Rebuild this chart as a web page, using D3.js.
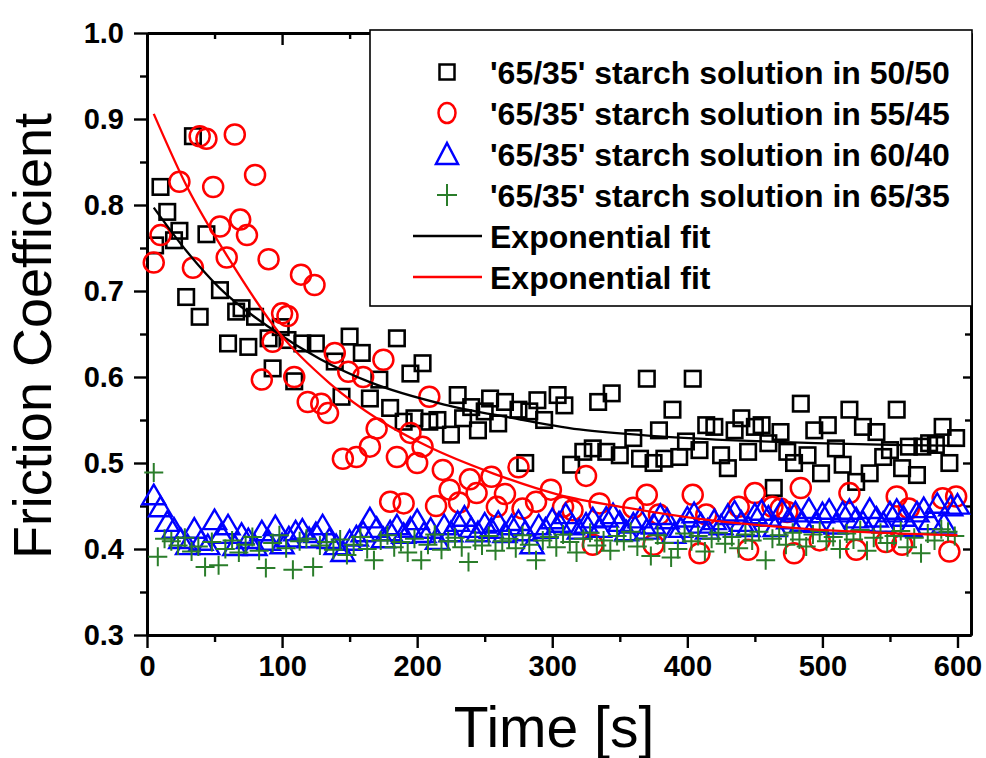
<!DOCTYPE html>
<html>
<head>
<meta charset="utf-8">
<script src="https://cdn.jsdelivr.net/npm/d3@7"></script>
<style>
  html, body { margin: 0; padding: 0; background: #fff; }
  svg { display: block; }
  text { font-family: "Liberation Sans", Arial, sans-serif; }
</style>
</head>
<body>
<svg id="chart" width="986" height="758"></svg>
<script>
// Friction coefficient vs. time for '65/35' starch solutions in four solvent ratios
const seriesNames = [
  "'65/35' starch solution in 50/50",
  "'65/35' starch solution in 55/45",
  "'65/35' starch solution in 60/40",
  "'65/35' starch solution in 65/35"
];
const fitNames = ["Exponential fit", "Exponential fit"];

const xTicks = [0, 100, 200, 300, 400, 500, 600];
const yTicks = [0.3, 0.4, 0.5, 0.6, 0.7, 0.8, 0.9, 1.0];

// [time s, friction coefficient]
const s5050 = [
  [6,0.753],[10,0.821],[15,0.792],[20,0.759],[24,0.770],[29,0.693],[34,0.880],[39,0.670],
  [44,0.766],[54,0.701],[60,0.639],[66,0.676],[70,0.680],[75,0.635],[80,0.670],[90,0.645],
  [93,0.610],[99,0.658],[104,0.643],[109,0.595],[115,0.639],[125,0.639],[139,0.618],[144,0.577],
  [150,0.647],[159,0.628],[165,0.575],[172,0.597],[180,0.564],[185,0.645],[190,0.548],[195,0.604],
  [198,0.552],[204,0.616],[209,0.548],[215,0.550],[225,0.533],[230,0.579],[234,0.552],[240,0.565],
  [245,0.538],[250,0.560],[254,0.575],[260,0.546],[265,0.571],[275,0.562],[280,0.500],[283,0.560],
  [289,0.573],[294,0.550],[304,0.579],[309,0.567],[314,0.498],[323,0.513],[330,0.517],[334,0.571],
  [340,0.513],[344,0.581],[350,0.509],[360,0.529],[365,0.505],[370,0.598],[375,0.500],[379,0.538],
  [383,0.505],[389,0.562],[394,0.507],[399,0.525],[404,0.598],[409,0.515],[414,0.544],[420,0.542],
  [425,0.509],[430,0.494],[435,0.538],[440,0.552],[445,0.513],[450,0.542],[455,0.544],[460,0.523],
  [464,0.471],[469,0.536],[474,0.513],[479,0.500],[484,0.569],[489,0.509],[494,0.538],[499,0.488],
  [504,0.544],[510,0.517],[515,0.498],[520,0.562],[525,0.478],[530,0.542],[535,0.488],[540,0.536],
  [545,0.507],[550,0.515],[555,0.562],[559,0.494],[564,0.519],[570,0.486],[574,0.519],[579,0.523],
  [584,0.521],[589,0.542],[594,0.500],[599,0.529]
];

const s5545 = [
  [5,0.733],[10,0.765],[24,0.827],[34,0.727],[39,0.880],[44,0.877],[49,0.821],[54,0.775],
  [59,0.739],[65,0.882],[69,0.783],[74,0.765],[80,0.835],[85,0.597],[90,0.737],[93,0.641],
  [100,0.674],[104,0.671],[109,0.600],[114,0.719],[119,0.571],[124,0.707],[129,0.569],[134,0.558],
  [139,0.628],[145,0.505],[149,0.606],[155,0.507],[160,0.600],[165,0.519],[170,0.540],[175,0.620],
  [180,0.455],[185,0.507],[190,0.453],[195,0.535],[200,0.500],[204,0.519],[209,0.577],[214,0.450],
  [219,0.492],[224,0.469],[231,0.454],[239,0.481],[244,0.465],[255,0.484],[259,0.449],[265,0.464],
  [275,0.495],[278,0.447],[288,0.455],[299,0.469],[308,0.449],[315,0.445],[325,0.485],[330,0.405],
  [335,0.453],[360,0.448],[370,0.463],[375,0.405],[379,0.440],[404,0.463],[409,0.395],[414,0.440],
  [438,0.449],[445,0.399],[450,0.465],[463,0.449],[469,0.447],[474,0.443],[479,0.395],[484,0.471],
  [498,0.410],[520,0.465],[525,0.399],[547,0.408],[555,0.461],[559,0.405],[564,0.447],[589,0.459],
  [594,0.397],[599,0.461]
];

const s6040 = [
  [5,0.463],[10,0.449],[15,0.432],[20,0.424],[25,0.412],[30,0.405],[35,0.424],[40,0.410],
  [45,0.405],[50,0.434],[55,0.418],[60,0.428],[65,0.404],[70,0.418],[75,0.412],[80,0.404],
  [85,0.421],[90,0.410],[95,0.427],[100,0.406],[105,0.414],[110,0.421],[115,0.423],[120,0.413],
  [125,0.419],[130,0.428],[135,0.412],[140,0.405],[145,0.397],[150,0.410],[155,0.415],[160,0.420],
  [165,0.436],[170,0.425],[175,0.413],[180,0.421],[185,0.428],[190,0.418],[195,0.425],[200,0.434],
  [205,0.419],[210,0.424],[215,0.411],[220,0.428],[225,0.420],[230,0.432],[235,0.438],[240,0.425],
  [245,0.420],[250,0.430],[255,0.424],[260,0.432],[265,0.419],[270,0.428],[275,0.433],[280,0.421],
  [285,0.406],[290,0.428],[295,0.424],[300,0.435],[305,0.431],[310,0.441],[315,0.428],[320,0.423],
  [325,0.430],[330,0.436],[335,0.425],[340,0.437],[345,0.441],[350,0.432],[355,0.421],[360,0.430],
  [365,0.436],[370,0.423],[375,0.429],[380,0.440],[385,0.435],[390,0.418],[395,0.425],[400,0.437],
  [405,0.442],[410,0.430],[415,0.423],[420,0.434],[425,0.428],[430,0.440],[435,0.444],[440,0.432],
  [445,0.426],[450,0.441],[455,0.445],[460,0.438],[465,0.426],[470,0.446],[475,0.435],[480,0.443],
  [485,0.432],[490,0.447],[495,0.431],[500,0.442],[505,0.446],[510,0.429],[515,0.443],[520,0.446],
  [525,0.436],[530,0.432],[535,0.447],[540,0.437],[545,0.431],[550,0.443],[555,0.446],[560,0.438],
  [565,0.426],[570,0.443],[575,0.448],[580,0.434],[585,0.453],[590,0.430],[595,0.450],[600,0.452]
];

const s6535 = [
  [5,0.489],[8,0.391],[13,0.412],[18,0.409],[23,0.404],[28,0.413],[33,0.397],[38,0.403],
  [43,0.379],[48,0.408],[53,0.381],[58,0.400],[63,0.410],[68,0.396],[73,0.405],[78,0.414],
  [83,0.398],[88,0.378],[93,0.407],[98,0.416],[103,0.401],[108,0.376],[113,0.409],[118,0.412],
  [123,0.379],[128,0.404],[133,0.408],[138,0.399],[143,0.411],[148,0.393],[153,0.405],[158,0.414],
  [163,0.400],[168,0.387],[173,0.410],[178,0.416],[183,0.402],[188,0.408],[193,0.396],[198,0.412],
  [203,0.387],[208,0.405],[213,0.417],[218,0.399],[223,0.409],[228,0.413],[233,0.402],[238,0.385],
  [243,0.410],[248,0.404],[253,0.415],[258,0.398],[263,0.409],[268,0.412],[273,0.401],[278,0.416],
  [283,0.405],[288,0.387],[293,0.410],[298,0.414],[303,0.402],[308,0.417],[313,0.408],[318,0.396],
  [323,0.412],[328,0.419],[333,0.404],[338,0.410],[343,0.398],[348,0.415],[353,0.409],[358,0.420],
  [363,0.403],[368,0.411],[373,0.392],[378,0.416],[383,0.407],[388,0.390],[393,0.400],[398,0.418],
  [403,0.409],[408,0.415],[413,0.397],[418,0.412],[423,0.419],[428,0.406],[433,0.414],[438,0.401],
  [443,0.417],[448,0.410],[453,0.420],[458,0.387],[463,0.412],[468,0.416],[473,0.405],[478,0.419],
  [483,0.411],[488,0.403],[493,0.417],[498,0.421],[503,0.409],[508,0.414],[513,0.400],[518,0.418],
  [523,0.411],[528,0.422],[533,0.398],[538,0.413],[543,0.419],[548,0.407],[553,0.415],[558,0.421],
  [563,0.402],[568,0.413],[573,0.395],[578,0.418],[583,0.410],[588,0.423],[593,0.420],[598,0.415]
];

// Exponential-fit curves, sampled along the drawn lines
const fit5050 = [
  [5,0.797],[30,0.745],[54,0.703],[93,0.655],[128,0.621],[165,0.594],[220,0.568],[268,0.553],
  [320,0.539],[379,0.531],[440,0.526],[495,0.523],[550,0.521],[603,0.520]
];
const fit5545 = [
  [5,0.906],[30,0.820],[60,0.739],[98,0.651],[135,0.593],[172,0.550],[207,0.520],[256,0.488],
  [305,0.463],[355,0.448],[409,0.435],[483,0.424],[540,0.419],[600,0.416]
];

const svg = d3.select("#chart");
const x = d3.scaleLinear().domain([0, 610]).range([147, 971]);
const y = d3.scaleLinear().domain([0.3, 1.0]).range([635, 33]);

const COL = { black: "#000000", red: "#ff0000", blue: "#0000ff", green: "#2a7d2a" };

// ---- axes ----
const minorX = d3.range(50, 600, 100);
const minorY = [0.35, 0.45, 0.55, 0.65, 0.75, 0.85, 0.95];
const axW = 2.8;

function styleAxis(g, labelled) {
  g.select(".domain").attr("stroke", "#000").attr("stroke-width", axW);
  g.selectAll(".tick line").attr("stroke", "#000").attr("stroke-width", 2.4);
  if (labelled) {
    g.selectAll(".tick text")
      .attr("font-size", 29).attr("font-weight", "bold").attr("fill", "#000")
      .attr("font-family", "'Liberation Sans', Arial, sans-serif");
  } else {
    g.selectAll(".tick text").remove();
  }
}

// bottom
svg.append("g").attr("transform", `translate(0,${y(0.3)})`)
  .call(d3.axisBottom(x).tickValues(minorX).tickSize(7).tickSizeOuter(0).tickFormat(""))
  .call(g => styleAxis(g, false));
svg.append("g").attr("transform", `translate(0,${y(0.3)})`)
  .call(d3.axisBottom(x).tickValues(xTicks).tickSize(13).tickSizeOuter(0).tickPadding(7).tickFormat(d3.format("d")))
  .call(g => styleAxis(g, true));

// left
svg.append("g").attr("transform", `translate(${x(0)},0)`)
  .call(d3.axisLeft(y).tickValues(minorY).tickSize(7).tickSizeOuter(0).tickFormat(""))
  .call(g => styleAxis(g, false));
svg.append("g").attr("transform", `translate(${x(0)},0)`)
  .call(d3.axisLeft(y).tickValues(yTicks).tickSize(13).tickSizeOuter(0).tickPadding(10).tickFormat(d3.format(".1f")))
  .call(g => styleAxis(g, true));

// top (ticks inward)
svg.append("g").attr("transform", `translate(0,${y(1.0)})`)
  .call(d3.axisTop(x).tickValues(minorX).tickSize(-6).tickSizeOuter(0).tickFormat(""))
  .call(g => styleAxis(g, false));
svg.append("g").attr("transform", `translate(0,${y(1.0)})`)
  .call(d3.axisTop(x).tickValues(xTicks).tickSize(-12).tickSizeOuter(0).tickFormat(""))
  .call(g => styleAxis(g, false));

// right (ticks inward)
svg.append("g").attr("transform", `translate(${x(610)},0)`)
  .call(d3.axisRight(y).tickValues(minorY).tickSize(-6).tickSizeOuter(0).tickFormat(""))
  .call(g => styleAxis(g, false));
svg.append("g").attr("transform", `translate(${x(610)},0)`)
  .call(d3.axisRight(y).tickValues(yTicks).tickSize(-8).tickSizeOuter(0).tickFormat(""))
  .call(g => styleAxis(g, false));

// ---- axis titles ----
svg.append("text")
  .attr("transform", `translate(51,${(y(0.3) + y(1.0)) / 2 + 2}) rotate(-90)`)
  .attr("text-anchor", "middle")
  .attr("font-size", 54)
  .attr("fill", "#000")
  .text("Friction Coefficient");

svg.append("text")
  .attr("x", 554).attr("y", 747)
  .attr("text-anchor", "middle")
  .attr("font-size", 57)
  .attr("fill", "#000")
  .text("Time [s]");

// ---- markers ----
const plot = svg.append("g");

function squares(g, data, side, color, sw) {
  g.selectAll(null).data(data).enter().append("rect")
    .attr("x", d => x(d[0]) - side / 2).attr("y", d => y(d[1]) - side / 2)
    .attr("width", side).attr("height", side)
    .attr("fill", "none").attr("stroke", color).attr("stroke-width", sw);
}
function circles(g, data, r, color, sw) {
  g.selectAll(null).data(data).enter().append("circle")
    .attr("cx", d => x(d[0])).attr("cy", d => y(d[1])).attr("r", r)
    .attr("fill", "none").attr("stroke", color).attr("stroke-width", sw);
}
function triangles(g, data, hw, color, sw) {
  const h = hw * 1.7;
  g.selectAll(null).data(data).enter().append("path")
    .attr("d", d => {
      const cx = x(d[0]), cy = y(d[1]);
      return `M${cx},${cy - h * 0.52}L${cx + hw},${cy + h * 0.48}L${cx - hw},${cy + h * 0.48}Z`;
    })
    .attr("fill", "none").attr("stroke", color).attr("stroke-width", sw).attr("stroke-linejoin", "miter");
}
function crosses(g, data, hs, color, sw) {
  g.selectAll(null).data(data).enter().append("path")
    .attr("d", d => {
      const cx = x(d[0]), cy = y(d[1]);
      return `M${cx - hs},${cy}H${cx + hs}M${cx},${cy - hs}V${cy + hs}`;
    })
    .attr("fill", "none").attr("stroke", color).attr("stroke-width", sw);
}

squares(plot.append("g"), s5050, 15.5, COL.black, 2.6);
circles(plot.append("g"), s5545, 10, COL.red, 2.5);
triangles(plot.append("g"), s6040, 11.5, COL.blue, 2.4);
crosses(plot.append("g"), s6535, 9.5, COL.green, 2);

// ---- fit curves ----
const line = d3.line().x(d => x(d[0])).y(d => y(d[1])).curve(d3.curveMonotoneX);
plot.append("path").datum(fit5050).attr("d", line)
  .attr("fill", "none").attr("stroke", COL.black).attr("stroke-width", 2.3);
plot.append("path").datum(fit5545).attr("d", line)
  .attr("fill", "none").attr("stroke", COL.red).attr("stroke-width", 2.3);

// ---- legend ----
const lg = svg.append("g");
lg.append("rect").attr("x", 370).attr("y", 30).attr("width", 602).attr("height", 276)
  .attr("fill", "#fff").attr("stroke", "#000").attr("stroke-width", 1.6);

const rowY = [72, 113, 154, 195, 236, 277];
const symX = 447, textX = 490;
const legendItems = [
  { label: seriesNames[0], kind: "square", color: COL.black },
  { label: seriesNames[1], kind: "circle", color: COL.red },
  { label: seriesNames[2], kind: "triangle", color: COL.blue },
  { label: seriesNames[3], kind: "cross", color: COL.green },
  { label: fitNames[0], kind: "line", color: COL.black },
  { label: fitNames[1], kind: "line", color: COL.red }
];

legendItems.forEach((it, i) => {
  const cy = rowY[i];
  const g = lg.append("g");
  if (it.kind === "square") {
    g.append("rect").attr("x", symX - 7.5).attr("y", cy - 7.5).attr("width", 15).attr("height", 15)
      .attr("fill", "none").attr("stroke", it.color).attr("stroke-width", 2.5);
  } else if (it.kind === "circle") {
    g.append("ellipse").attr("cx", symX).attr("cy", cy).attr("rx", 8.5).attr("ry", 10)
      .attr("fill", "none").attr("stroke", it.color).attr("stroke-width", 2.5);
  } else if (it.kind === "triangle") {
    g.append("path").attr("d", `M${symX},${cy - 11}L${symX + 11},${cy + 10}L${symX - 11},${cy + 10}Z`)
      .attr("fill", "none").attr("stroke", it.color).attr("stroke-width", 2.5);
  } else if (it.kind === "cross") {
    g.append("path").attr("d", `M${symX - 10},${cy}H${symX + 10}M${symX},${cy - 11}V${cy + 11}`)
      .attr("fill", "none").attr("stroke", it.color).attr("stroke-width", 2);
  } else {
    g.append("line").attr("x1", 413).attr("x2", 482).attr("y1", cy).attr("y2", cy)
      .attr("stroke", it.color).attr("stroke-width", 2.3);
  }
  g.append("text").attr("x", textX).attr("y", cy).attr("dy", "0.36em")
    .attr("font-size", 32).attr("font-weight", "bold").attr("fill", "#000")
    .text(it.label);
});
</script>
</body>
</html>
